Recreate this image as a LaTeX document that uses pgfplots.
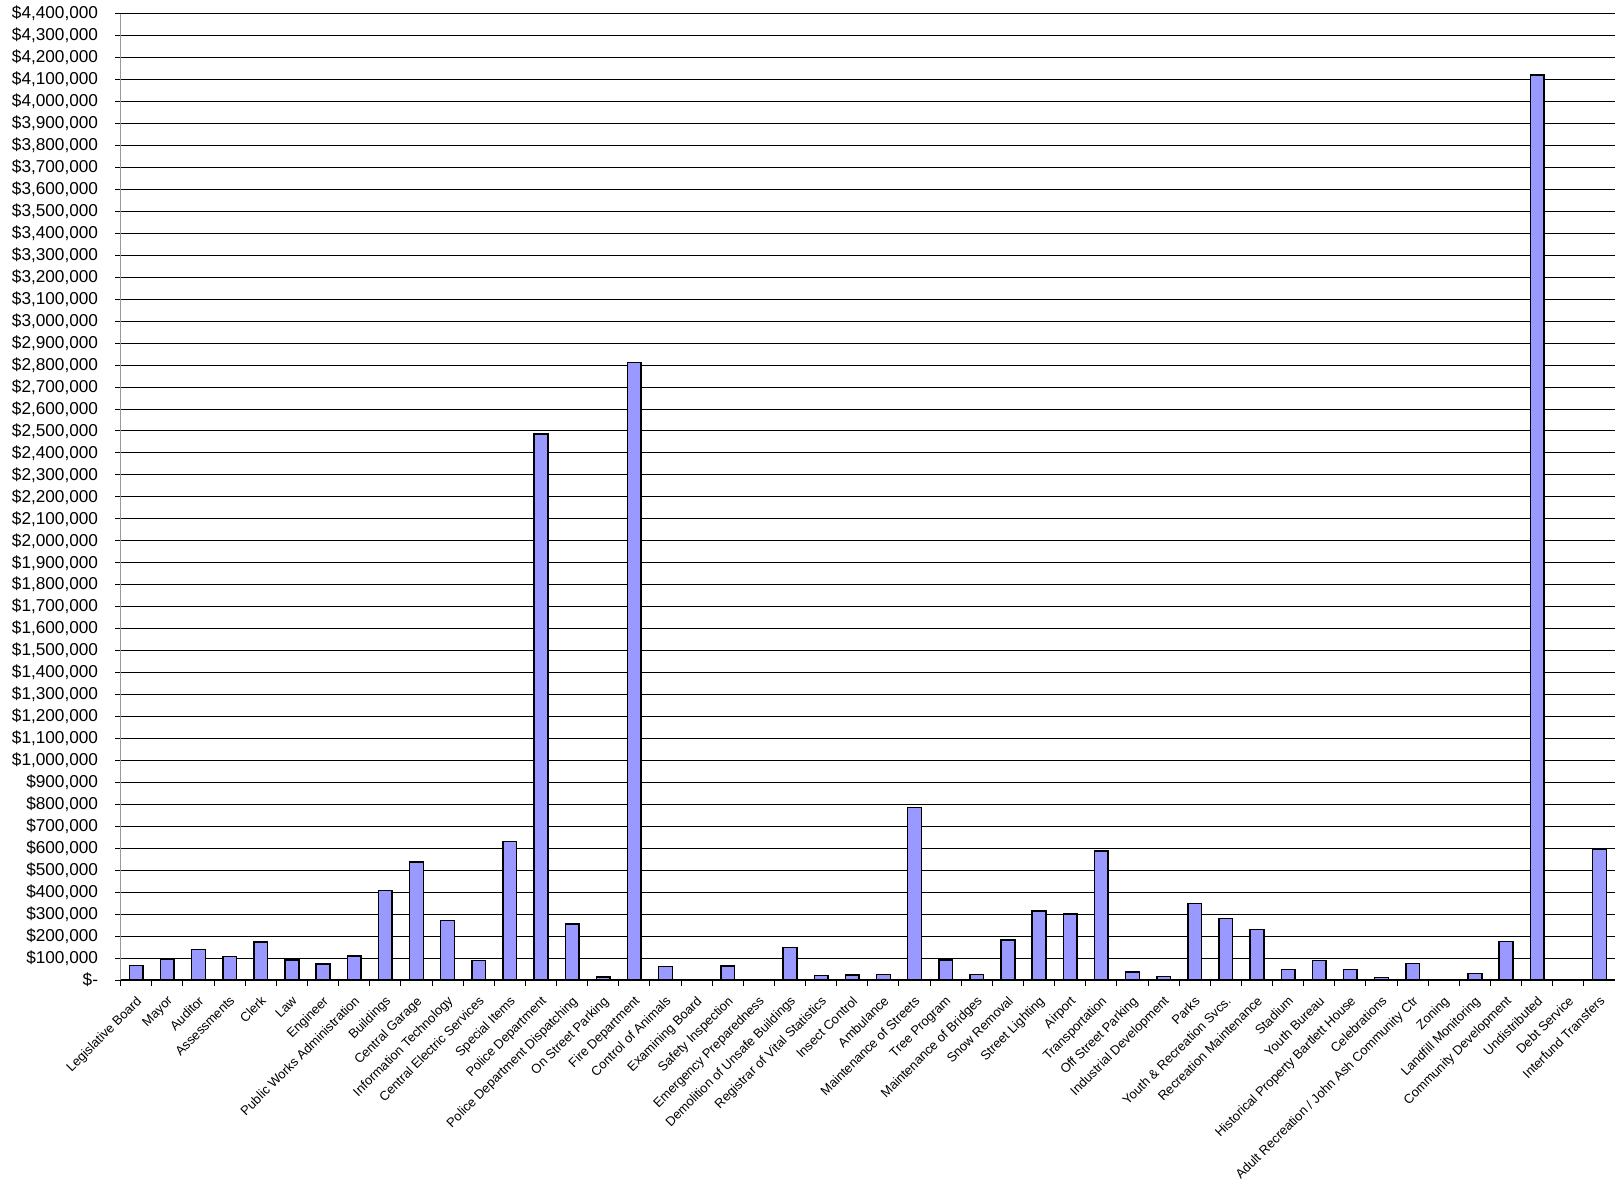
\documentclass[border=0pt]{standalone}
\usepackage{fontspec}
\setmainfont{Liberation Sans}
\usepackage{pgfplots}
\pgfplotsset{compat=1.18}
\definecolor{barfill}{HTML}{9999FF}

\begin{document}
\begin{tikzpicture}
\begin{axis}[
  name=ax,
  at={(0,0)}, anchor=south west,
  scale only axis,
  width=747.15pt, height=483.15pt,
  ybar, bar width=0.44,
  xmin=-0.5, xmax=47.5,
  ymin=0, ymax=4400000,
  axis x line*=bottom, axis y line*=left,
  x axis line style={black, line width=0.8pt, -},
  y axis line style={gray!80, line width=0.6pt, -},
  tick align=outside,
  major tick length=2.8pt, minor tick length=2.8pt,
  xtick={0,...,47},
  major x tick style={draw=none},
  minor xtick={-0.5,0.5,...,47.5},
  minor x tick style={draw=black, line width=0.5pt},
  ytick={0,100000,...,4400000},
  ytick style={draw=black, line width=0.5pt},
  scaled y ticks=false,
  ymajorgrids,
  grid style={black, line width=0.5pt},
  yticklabel style={font=\fontsize{8.6}{9}\selectfont, xshift=-5pt},
  xticklabel style={font=\fontsize{6.5}{7.5}\selectfont, rotate=45, anchor=north east, inner sep=1pt, yshift=-2pt, xshift=-2.5pt},
  yticklabels={{\$-},{\$100,000},{\$200,000},{\$300,000},{\$400,000},{\$500,000},{\$600,000},{\$700,000},{\$800,000},{\$900,000},
    {\$1,000,000},{\$1,100,000},{\$1,200,000},{\$1,300,000},{\$1,400,000},{\$1,500,000},{\$1,600,000},{\$1,700,000},{\$1,800,000},{\$1,900,000},
    {\$2,000,000},{\$2,100,000},{\$2,200,000},{\$2,300,000},{\$2,400,000},{\$2,500,000},{\$2,600,000},{\$2,700,000},{\$2,800,000},{\$2,900,000},
    {\$3,000,000},{\$3,100,000},{\$3,200,000},{\$3,300,000},{\$3,400,000},{\$3,500,000},{\$3,600,000},{\$3,700,000},{\$3,800,000},{\$3,900,000},
    {\$4,000,000},{\$4,100,000},{\$4,200,000},{\$4,300,000},{\$4,400,000}},
  xticklabels={Legislative Board, Mayor, Auditor, Assessments, Clerk, Law, Engineer,
    Public Works Administration, Buildings, Central Garage, Information Technology,
    Central Electric Services, Special Items, Police Department,
    Police Department Dispatching, On Street Parking, Fire Department,
    Control of Animals, Examining Board, Safety Inspection, Emergency Preparedness,
    Demolition of Unsafe Buildings, Registrar of Vital Statistics, Insect Control,
    Ambulance, Maintenance of Streets, Tree Program, Maintenance of Bridges,
    Snow Removal, Street Lighting, Airport, Transportation, Off Street Parking,
    Industrial Development, Parks, Youth \& Recreation Svcs., Recreation Maintenance,
    Stadium, Youth Bureau, Historical Property Bartlett House, Celebrations,
    Adult Recreation / John Ash Community Ctr, Zoning, Landfill Monitoring,
    Community Development, Undistributed, Debt Service, Interfund Transfers},
]
\addplot[fill=barfill, draw=black, line width=0.75pt] coordinates {
  (0,67000) (1,94000) (2,138000) (3,106000) (4,174000) (5,91000) (6,73000)
  (7,109000) (8,408000) (9,538000) (10,271000) (11,89000) (12,630000)
  (13,2486000) (14,256000) (15,14000) (16,2812000) (17,61000) (18,3000)
  (19,64000) (20,2000) (21,148000) (22,20000) (23,23000) (24,26000)
  (25,785000) (26,91000) (27,26000) (28,183000) (29,315000) (30,300000)
  (31,588000) (32,36000) (33,15000) (34,348000) (35,280000) (36,230000)
  (37,48000) (38,89000) (39,48000) (40,11000) (41,76000) (42,3000)
  (43,30000) (44,176000) (45,4120000) (46,0) (47,595000)
};
\end{axis}
\pgfresetboundingbox
\path[use as bounding box] (-60.35pt,-102pt) rectangle (747.15pt,490pt);
\end{tikzpicture}
\end{document}
